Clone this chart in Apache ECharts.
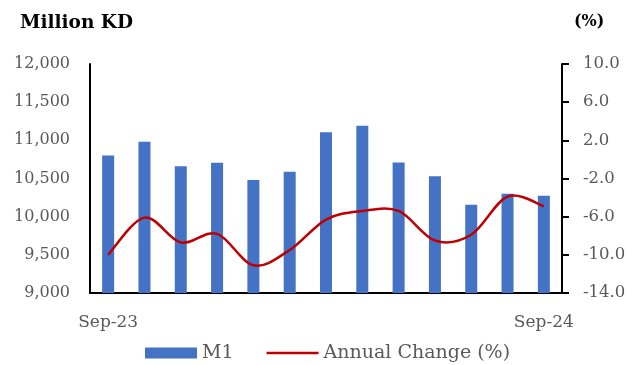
<!DOCTYPE html>
<html>
<head>
<meta charset="utf-8">
<script src="https://cdn.jsdelivr.net/npm/echarts@6/dist/echarts.min.js"></script>
<style>
  html, body { margin: 0; padding: 0; background: #ffffff; }
  #chart { width: 637px; height: 365px; }
</style>
</head>
<body>
<div id="chart"></div>
<script>
// Monthly M1 money supply (million KD) and its annual change (%)
var months = ['Sep-23', 'Oct-23', 'Nov-23', 'Dec-23', 'Jan-24', 'Feb-24', 'Mar-24',
              'Apr-24', 'May-24', 'Jun-24', 'Jul-24', 'Aug-24', 'Sep-24'];
var m1Values = [10800, 10980, 10660, 10705, 10480, 10590, 11105,
                11190, 10710, 10530, 10155, 10300, 10275];
var annualChange = [-10.0, -6.1, -8.7, -7.8, -11.1, -9.5, -6.3,
                    -5.4, -5.4, -8.5, -7.9, -3.9, -4.9];
var leftTicks = { min: 9000, max: 12000, step: 500 };
var rightTicks = { min: -14, max: 10, step: 4 };

var FONT = "'DejaVu Serif', 'Liberation Serif', serif";
var GREY = '#595959';
var BLUE = '#4472C4';
var RED = '#C00000';

// thin horizontal stroke for the line-series legend key (the leading moves fix its box height)
var LINE_KEY = 'path://M0,0M0,11M0,4.25L52,4.25L52,6.75L0,6.75Z';

// Catmull-Rom style smoothed curve through the points, mapped by the chart's own axes
function renderSmoothLine(params, api) {
  if (params.dataIndex !== 0) return null;
  var pts = annualChange.map(function (v, i) { return api.coord([i, v]); });
  var t = 1 / 6;
  var d = 'M' + pts[0][0] + ',' + pts[0][1];
  for (var i = 0; i < pts.length - 1; i++) {
    var p0 = pts[Math.max(i - 1, 0)];
    var p1 = pts[i];
    var p2 = pts[i + 1];
    var p3 = pts[Math.min(i + 2, pts.length - 1)];
    var c1x = p1[0] + (p2[0] - p0[0]) * t;
    var c1y = p1[1] + (p2[1] - p0[1]) * t;
    var c2x = p2[0] - (p3[0] - p1[0]) * t;
    var c2y = p2[1] - (p3[1] - p1[1]) * t;
    d += 'C' + c1x + ',' + c1y + ' ' + c2x + ',' + c2y + ' ' + p2[0] + ',' + p2[1];
  }
  return {
    type: 'path',
    shape: { pathData: d },
    style: { stroke: RED, lineWidth: 2.5, fill: null, lineJoin: 'round', lineCap: 'butt' }
  };
}

var chart = echarts.init(document.getElementById('chart'), null, { renderer: 'canvas' });

chart.setOption({
  backgroundColor: '#ffffff',
  animation: false,
  textStyle: { fontFamily: FONT },
  title: [
    {
      text: 'Million KD', left: 20, top: 14, padding: 0,
      textStyle: { fontFamily: FONT, fontSize: 18.5, fontWeight: 'bold', color: '#000000' }
    },
    {
      text: '(%)', left: 574, top: 14, padding: 0,
      textStyle: { fontFamily: FONT, fontSize: 16, fontWeight: 'bold', color: '#000000' }
    }
  ],
  legend: {
    left: 145, top: 343, padding: 0,
    itemWidth: 52, itemHeight: 11, itemGap: 33,
    textStyle: { fontFamily: FONT, fontSize: 19, color: GREY, lineHeight: 20 },
    data: [
      { name: 'M1', icon: 'rect' },
      { name: 'Annual Change (%)', icon: LINE_KEY }
    ]
  },
  grid: { left: 90, right: 75, top: 64, bottom: 72, containLabel: false },
  xAxis: {
    type: 'category',
    data: months,
    boundaryGap: true,
    axisLine: { onZero: false, lineStyle: { color: '#000000', width: 2 } },
    axisTick: { show: false },
    axisLabel: {
      interval: function (i) { return i === 0 || i === months.length - 1; },
      margin: 21, fontFamily: FONT, fontSize: 17, color: GREY
    },
    splitLine: { show: false }
  },
  yAxis: [
    {
      type: 'value', position: 'left',
      min: leftTicks.min, max: leftTicks.max, interval: leftTicks.step,
      axisLine: { show: true, lineStyle: { color: '#000000', width: 2 } },
      axisTick: { show: false },
      axisLabel: {
        margin: 20, fontFamily: FONT, fontSize: 16, color: GREY,
        formatter: function (v) { return v.toLocaleString('en-US'); }
      },
      splitLine: { show: false }
    },
    {
      type: 'value', position: 'right',
      min: rightTicks.min, max: rightTicks.max, interval: rightTicks.step,
      axisLine: { show: true, lineStyle: { color: '#000000', width: 2 } },
      axisTick: { show: true, inside: false, length: 7, lineStyle: { color: '#000000', width: 2 } },
      axisLabel: {
        margin: 21, fontFamily: FONT, fontSize: 16.5, color: GREY,
        formatter: function (v) { return v.toFixed(1); }
      },
      splitLine: { show: false }
    }
  ],
  series: [
    {
      name: 'M1', type: 'bar', yAxisIndex: 0,
      data: m1Values, barWidth: 12, z: 2,
      itemStyle: { color: BLUE }
    },
    {
      name: 'Annual Change (%)', type: 'custom', yAxisIndex: 1,
      coordinateSystem: 'cartesian2d', z: 10,
      data: annualChange.map(function (v, i) { return [i, v]; }),
      encode: { x: 0, y: 1 },
      renderItem: renderSmoothLine,
      itemStyle: { color: RED }
    }
  ]
});
</script>
</body>
</html>
